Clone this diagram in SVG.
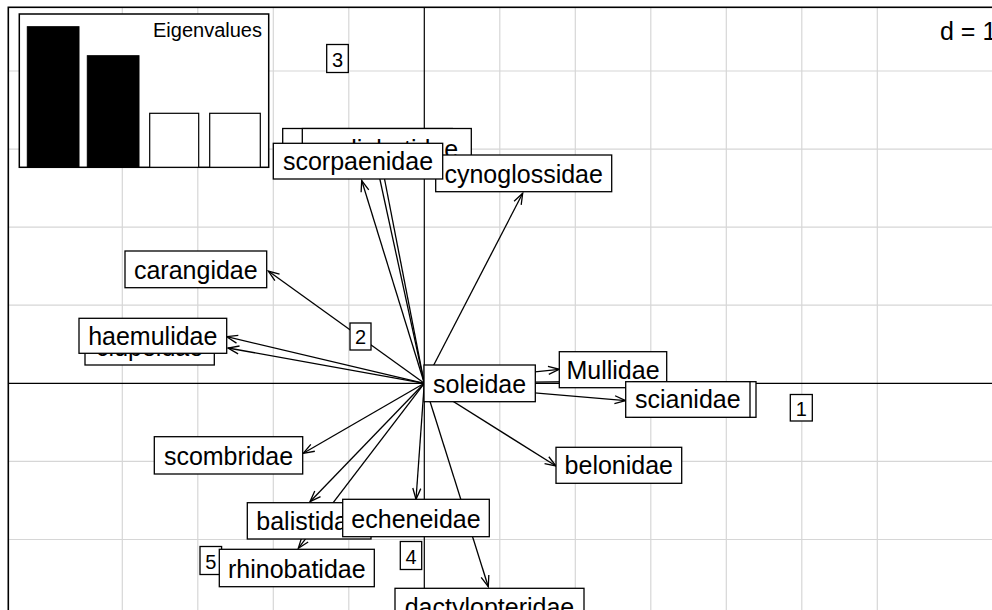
<svg xmlns="http://www.w3.org/2000/svg" width="992" height="610" viewBox="0 0 992 610">
<style>
.grid{stroke:#d6d6d6;stroke-width:1.2}
.axis{stroke:#000;stroke-width:1.2}
.arr{stroke:#000;stroke-width:1.3;fill:none;marker-end:url(#ah)}
.box{fill:#fff;stroke:#000;stroke-width:1.3}
.lab{font-family:"Liberation Sans",Arial,sans-serif;font-size:25px;fill:#000;text-anchor:middle}
.num{font-family:"Liberation Sans",Arial,sans-serif;font-size:20px;fill:#000;text-anchor:middle}
.eig{font-family:"Liberation Sans",Arial,sans-serif;font-size:20px;fill:#000;text-anchor:end}
</style>
<defs>
<marker id="ah" markerWidth="14" markerHeight="10" refX="12" refY="5" orient="auto" markerUnits="userSpaceOnUse">
<path d="M1,1 L12,5 L1,9" fill="none" stroke="#000" stroke-width="1.3"/>
</marker>
</defs>
<rect x="0" y="0" width="992" height="610" fill="#fff"/>
<g id="grid">
<line class="grid" x1="122.3" y1="7" x2="122.3" y2="610"/>
<line class="grid" x1="197.8" y1="7" x2="197.8" y2="610"/>
<line class="grid" x1="273.3" y1="7" x2="273.3" y2="610"/>
<line class="grid" x1="348.8" y1="7" x2="348.8" y2="610"/>
<line class="grid" x1="499.8" y1="7" x2="499.8" y2="610"/>
<line class="grid" x1="575.3" y1="7" x2="575.3" y2="610"/>
<line class="grid" x1="650.8" y1="7" x2="650.8" y2="610"/>
<line class="grid" x1="726.3" y1="7" x2="726.3" y2="610"/>
<line class="grid" x1="801.8" y1="7" x2="801.8" y2="610"/>
<line class="grid" x1="877.3" y1="7" x2="877.3" y2="610"/>
<line class="grid" x1="8" y1="71" x2="992" y2="71"/>
<line class="grid" x1="8" y1="149.1" x2="992" y2="149.1"/>
<line class="grid" x1="8" y1="227.2" x2="992" y2="227.2"/>
<line class="grid" x1="8" y1="305.2" x2="992" y2="305.2"/>
<line class="grid" x1="8" y1="461.4" x2="992" y2="461.4"/>
<line class="grid" x1="8" y1="539.5" x2="992" y2="539.5"/>
</g>
<g id="axes">
<line class="axis" x1="8" y1="383.3" x2="992" y2="383.3"/>
<line class="axis" x1="424.3" y1="7" x2="424.3" y2="610"/>
</g>
<rect x="8.3" y="7.3" width="1000" height="700" fill="none" stroke="#000" stroke-width="1.6"/>
<text x="940" y="40" class="lab" style="text-anchor:start">d = 1</text>
<g id="connectors">
<line class="arr" x1="424.3" y1="383.3" x2="268.3" y2="271"/>
<line class="arr" x1="424.3" y1="383.3" x2="226.7" y2="336.7"/>
<line class="arr" x1="424.3" y1="383.3" x2="228" y2="348"/>
<line class="arr" x1="424.3" y1="383.3" x2="361.7" y2="180.5"/>
<line class="arr" x1="424.3" y1="383.3" x2="377" y2="166"/>
<line class="arr" x1="424.3" y1="383.3" x2="382" y2="166"/>
<line class="arr" x1="424.3" y1="383.3" x2="522.7" y2="193.3"/>
<line class="arr" x1="424.3" y1="383.3" x2="559.3" y2="369.3"/>
<line class="arr" x1="424.3" y1="383.3" x2="640" y2="381"/>
<line class="arr" x1="424.3" y1="383.3" x2="625.7" y2="400.7"/>
<line class="arr" x1="424.3" y1="383.3" x2="556" y2="466"/>
<line class="arr" x1="424.3" y1="383.3" x2="303.3" y2="453.3"/>
<line class="arr" x1="424.3" y1="383.3" x2="310" y2="501.7"/>
<line class="arr" x1="424.3" y1="383.3" x2="298.3" y2="548.3"/>
<line class="arr" x1="424.3" y1="383.3" x2="416" y2="499.3"/>
<line class="arr" x1="424.3" y1="383.3" x2="488.3" y2="586.7"/>
</g>
<g id="n-hiddenA"><rect class="box" x="282.7" y="128.5" width="169.6" height="37"/></g>
<g id="n-myliobatidae"><rect class="box" x="302.3" y="128.5" width="169" height="37"/><text class="lab" x="388" y="157.5">myliobatidae</text></g>
<g id="n-cynoglossidae"><rect class="box" x="435.7" y="155" width="176" height="36.7"/><text class="lab" x="523.7" y="182.7">cynoglossidae</text></g>
<g id="n-scorpaenidae"><rect class="box" x="273.3" y="143.3" width="169.4" height="35.7"/><text class="lab" x="358" y="170">scorpaenidae</text></g>
<g id="n-carangidae"><rect class="box" x="125" y="251" width="141.7" height="36.7"/><text class="lab" x="195.8" y="278.7">carangidae</text></g>
<g id="n-clupeidae"><rect class="box" x="85" y="329" width="129.3" height="36"/><text class="lab" x="149.6" y="356">clupeidae</text></g>
<g id="n-haemulidae"><rect class="box" x="79" y="318.3" width="147.7" height="35"/><text class="lab" x="152.8" y="344.5">haemulidae</text></g>
<g id="n-soleidae"><rect class="box" x="424" y="365" width="111.3" height="36.7"/><text class="lab" x="479.6" y="392.7">soleidae</text></g>
<g id="n-Mullidae"><rect class="box" x="559.3" y="351.7" width="107.4" height="36"/><text class="lab" x="613" y="378.7">Mullidae</text></g>
<g id="n-hiddenB"><rect class="box" x="633" y="381.7" width="123" height="35.6"/></g>
<g id="n-scianidae"><rect class="box" x="625.7" y="381.7" width="124.3" height="35.6"/><text class="lab" x="687.8" y="408.3">scianidae</text></g>
<g id="n-belonidae"><rect class="box" x="556" y="447.3" width="125.7" height="36"/><text class="lab" x="618.8" y="474.3">belonidae</text></g>
<g id="n-scombridae"><rect class="box" x="154.3" y="436.7" width="148.4" height="37.3"/><text class="lab" x="228.5" y="465">scombridae</text></g>
<g id="n-balistidae"><rect class="box" x="247.3" y="502.7" width="123.7" height="36.3"/><text class="lab" x="309.1" y="530">balistidae</text></g>
<g id="n-echeneidae"><rect class="box" x="342.7" y="499.3" width="146.6" height="37.4"/><text class="lab" x="416" y="527.7">echeneidae</text></g>
<g id="n-5"><rect class="box" x="200" y="546.5" width="21.6" height="28"/><text class="num" x="210.8" y="568.5">5</text></g>
<g id="n-rhinobatidae"><rect class="box" x="219.3" y="549.3" width="155" height="37.4"/><text class="lab" x="296.8" y="577.7">rhinobatidae</text></g>
<g id="n-dactylopteridae"><rect class="box" x="395" y="588.3" width="189" height="36.5"/><text class="lab" x="489.5" y="615.8">dactylopteridae</text></g>
<g id="n-3"><rect class="box" x="326.7" y="44.5" width="21.6" height="28"/><text class="num" x="337.5" y="66.5">3</text></g>
<g id="n-2"><rect class="box" x="350" y="323" width="21" height="27"/><text class="num" x="360.5" y="344">2</text></g>
<g id="n-1"><rect class="box" x="790.3" y="394.5" width="22" height="26.5"/><text class="num" x="801.3" y="415.5">1</text></g>
<g id="n-4"><rect class="box" x="400.3" y="541.5" width="21.4" height="28"/><text class="num" x="411" y="563.5">4</text></g>
<g id="eigenvalues">
<rect x="19.3" y="14" width="249.4" height="153.3" fill="#fff" stroke="#000" stroke-width="1.5"/>
<rect x="27.3" y="26.7" width="51.7" height="140.6" fill="#000" stroke="#000" stroke-width="1"/>
<rect x="87.3" y="55.7" width="51.7" height="111.6" fill="#000" stroke="#000" stroke-width="1"/>
<rect x="149.7" y="113.3" width="49" height="54" fill="#fff" stroke="#000" stroke-width="1.2"/>
<rect x="209.7" y="113.3" width="50.6" height="54" fill="#fff" stroke="#000" stroke-width="1.2"/>
<text class="eig" x="262" y="37">Eigenvalues</text>
</g>
</svg>
